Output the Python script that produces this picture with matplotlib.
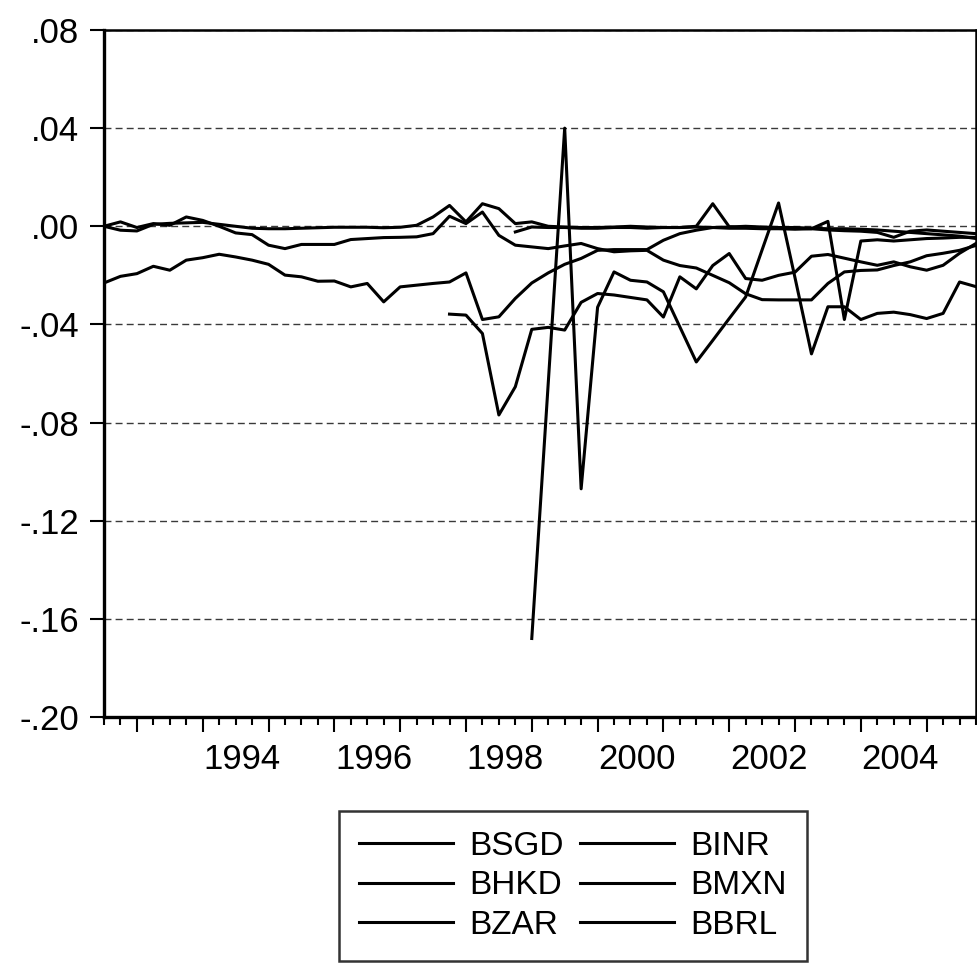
import numpy as np
import matplotlib.pyplot as plt
from matplotlib.ticker import FixedLocator, NullFormatter, FixedFormatter

plt.rcParams['font.family'] = ['Liberation Sans', 'DejaVu Sans']

nan = np.nan

# quarterly observations 1992Q3 .. 2005Q4
quarters = 1992.5 + 0.25 * np.arange(54)

bsgd = [0.000, 0.0018, -0.0005, 0.0011, 0.0004, 0.0038, 0.0024, 0.000, -0.0027, -0.0034,
        -0.0077, -0.0091, -0.0074, -0.0074, -0.0074, -0.0054, -0.0050, -0.0046, -0.0045, -0.0043,
        -0.0030, 0.0041, 0.0011, 0.0058, -0.0037, -0.0077, -0.0084,
        -0.0091, -0.0080, -0.0070, -0.0091, -0.0104, -0.0100, -0.0098, -0.0138, -0.0160, -0.0170,
        -0.0200, -0.0230, -0.0275, -0.0299, -0.0300, -0.0300, -0.0300, -0.0233, -0.0186, -0.0180,
        -0.0178, -0.0160, -0.0145, -0.0120, -0.0110, -0.0098, -0.0078]

bhkd = [0.000, -0.0016, -0.0019, 0.0008, 0.0012, 0.0014, 0.0016, 0.0008, 0.000, -0.0008,
        -0.0010, -0.0010, -0.0008, -0.0006, -0.0004, -0.0004, -0.0004, -0.0006, -0.0004,
        0.0004, 0.0038, 0.0085, 0.0018, 0.0092, 0.0072, 0.0011, 0.0018,
        0.000, -0.0003, -0.0005, -0.0005, -0.0003, 0.000, -0.0003, -0.0005, -0.0005, -0.0003,
        -0.0005, -0.0008, -0.0008, -0.0010, -0.0010, -0.0012, -0.0010, -0.0015, -0.0018, -0.0020,
        -0.0025, -0.0045, -0.0020, -0.0015, -0.0020, -0.0025, -0.0030]

bzar = [-0.0231, -0.0204, -0.0193, -0.0163, -0.0179, -0.0138, -0.0128, -0.0114, -0.0125, -0.0138,
        -0.0155, -0.0199, -0.0206, -0.0224, -0.0223, -0.0247, -0.0233, -0.0308, -0.0247, -0.0240,
        -0.0233, -0.0227, -0.0190, -0.0380, -0.0369, -0.0294, -0.0231,
        -0.0190, -0.0155, -0.0131, -0.0098, -0.0095, -0.0095, -0.0095, -0.0057, -0.0030, -0.0016,
        -0.0005, -0.0003, 0.000, -0.0003, -0.0005, -0.0005, -0.0008, -0.0010, -0.0010, -0.0012,
        -0.0015, -0.0020, -0.0025, -0.0030, -0.0035, -0.0040, -0.0050]

binr = [nan] * 25 + [-0.0023, -0.0003,
        -0.0005, -0.0005, -0.0008, -0.0008, -0.0005, -0.0005, -0.0008, -0.0005, -0.0005, 0.000,
        0.0092, -0.0002, -0.0005, -0.0005, -0.0008, -0.0008, -0.0010, 0.0020, -0.0380, -0.0060,
        -0.0055, -0.0060, -0.0055, -0.0050, -0.0048, -0.0045, -0.0045]

bmxn = [nan] * 21 + [-0.0358, -0.0362, -0.0437, -0.0769, -0.0654, -0.0420,
        -0.0412, -0.0423, -0.0310, -0.0274, -0.0280, -0.0290, -0.0300, -0.0370, -0.0206, -0.0255,
        -0.0160, -0.0111, -0.0213, -0.0220, -0.0200, -0.0187, -0.0122, -0.0115, -0.0130, -0.0145,
        -0.0159, -0.0145, -0.0165, -0.0179, -0.0159, -0.0110, -0.0070]

bbrl = [nan] * 26 + [-0.168,
        -0.064, 0.040, -0.107, -0.033, -0.0186, -0.022, -0.0227, -0.0267, -0.041, -0.0553,
        -0.0465, -0.0376, -0.0288, -0.0096, 0.0095, -0.021, -0.052, -0.0328, -0.0328, -0.038,
        -0.0355, -0.035, -0.036, -0.0376, -0.0355, -0.0227, -0.0246]

names = ['BSGD', 'BHKD', 'BZAR', 'BINR', 'BMXN', 'BBRL']
series = [bsgd, bhkd, bzar, binr, bmxn, bbrl]

yticks = [0.08, 0.04, 0.0, -0.04, -0.08, -0.12, -0.16, -0.20]
ylabels = ['.08', '.04', '.00', '-.04', '-.08', '-.12', '-.16', '-.20']
year_labels = [1994, 1996, 1998, 2000, 2002, 2004]

fig = plt.figure(figsize=(9.78, 9.65), dpi=100)
ax = fig.add_axes([104 / 978, 1 - 717 / 965, 872 / 978, 687 / 965])

for name, vals in zip(names, series):
    ax.plot(quarters, vals, color='black', lw=2.2, label=name)

ax.set_xlim(1992.5, 2005.75)
ax.set_ylim(-0.20, 0.08)

ax.yaxis.set_major_locator(FixedLocator(yticks))
ax.yaxis.set_major_formatter(FixedFormatter(ylabels))
ax.yaxis.grid(True, ls=(0, (5, 3)), color='#3a3a3a', lw=1.0)
ax.set_axisbelow(True)

ax.xaxis.set_major_locator(FixedLocator(np.arange(1993, 2006)))
ax.xaxis.set_minor_locator(FixedLocator(quarters))
ax.xaxis.set_major_formatter(NullFormatter())
for yr in year_labels:
    ax.annotate(str(yr), xy=(yr + 0.6, 0), xycoords=('data', 'axes fraction'),
                xytext=(0, -19), textcoords='offset points', ha='center', va='top', fontsize=25)

ax.tick_params(axis='y', direction='out', length=10, width=1.5, pad=8, labelsize=25)
ax.tick_params(axis='x', which='major', direction='out', length=10.5, width=1.5)
ax.tick_params(axis='x', which='minor', direction='out', length=5.5, width=1.5)

for side in ['left', 'bottom']:
    ax.spines[side].set_linewidth(2.4)
for side in ['top', 'right']:
    ax.spines[side].set_linewidth(1.8)

leg = ax.legend(ncol=2, loc='center', bbox_to_anchor=(0.586, 0.082), bbox_transform=fig.transFigure,
                frameon=True, fancybox=False, edgecolor='black', fontsize=24, handlelength=2.8,
                handletextpad=0.5, columnspacing=0.5, labelspacing=0.25, borderpad=0.6)
leg.get_frame().set_linewidth(1.8)

fig.savefig('out.png', dpi=100)
